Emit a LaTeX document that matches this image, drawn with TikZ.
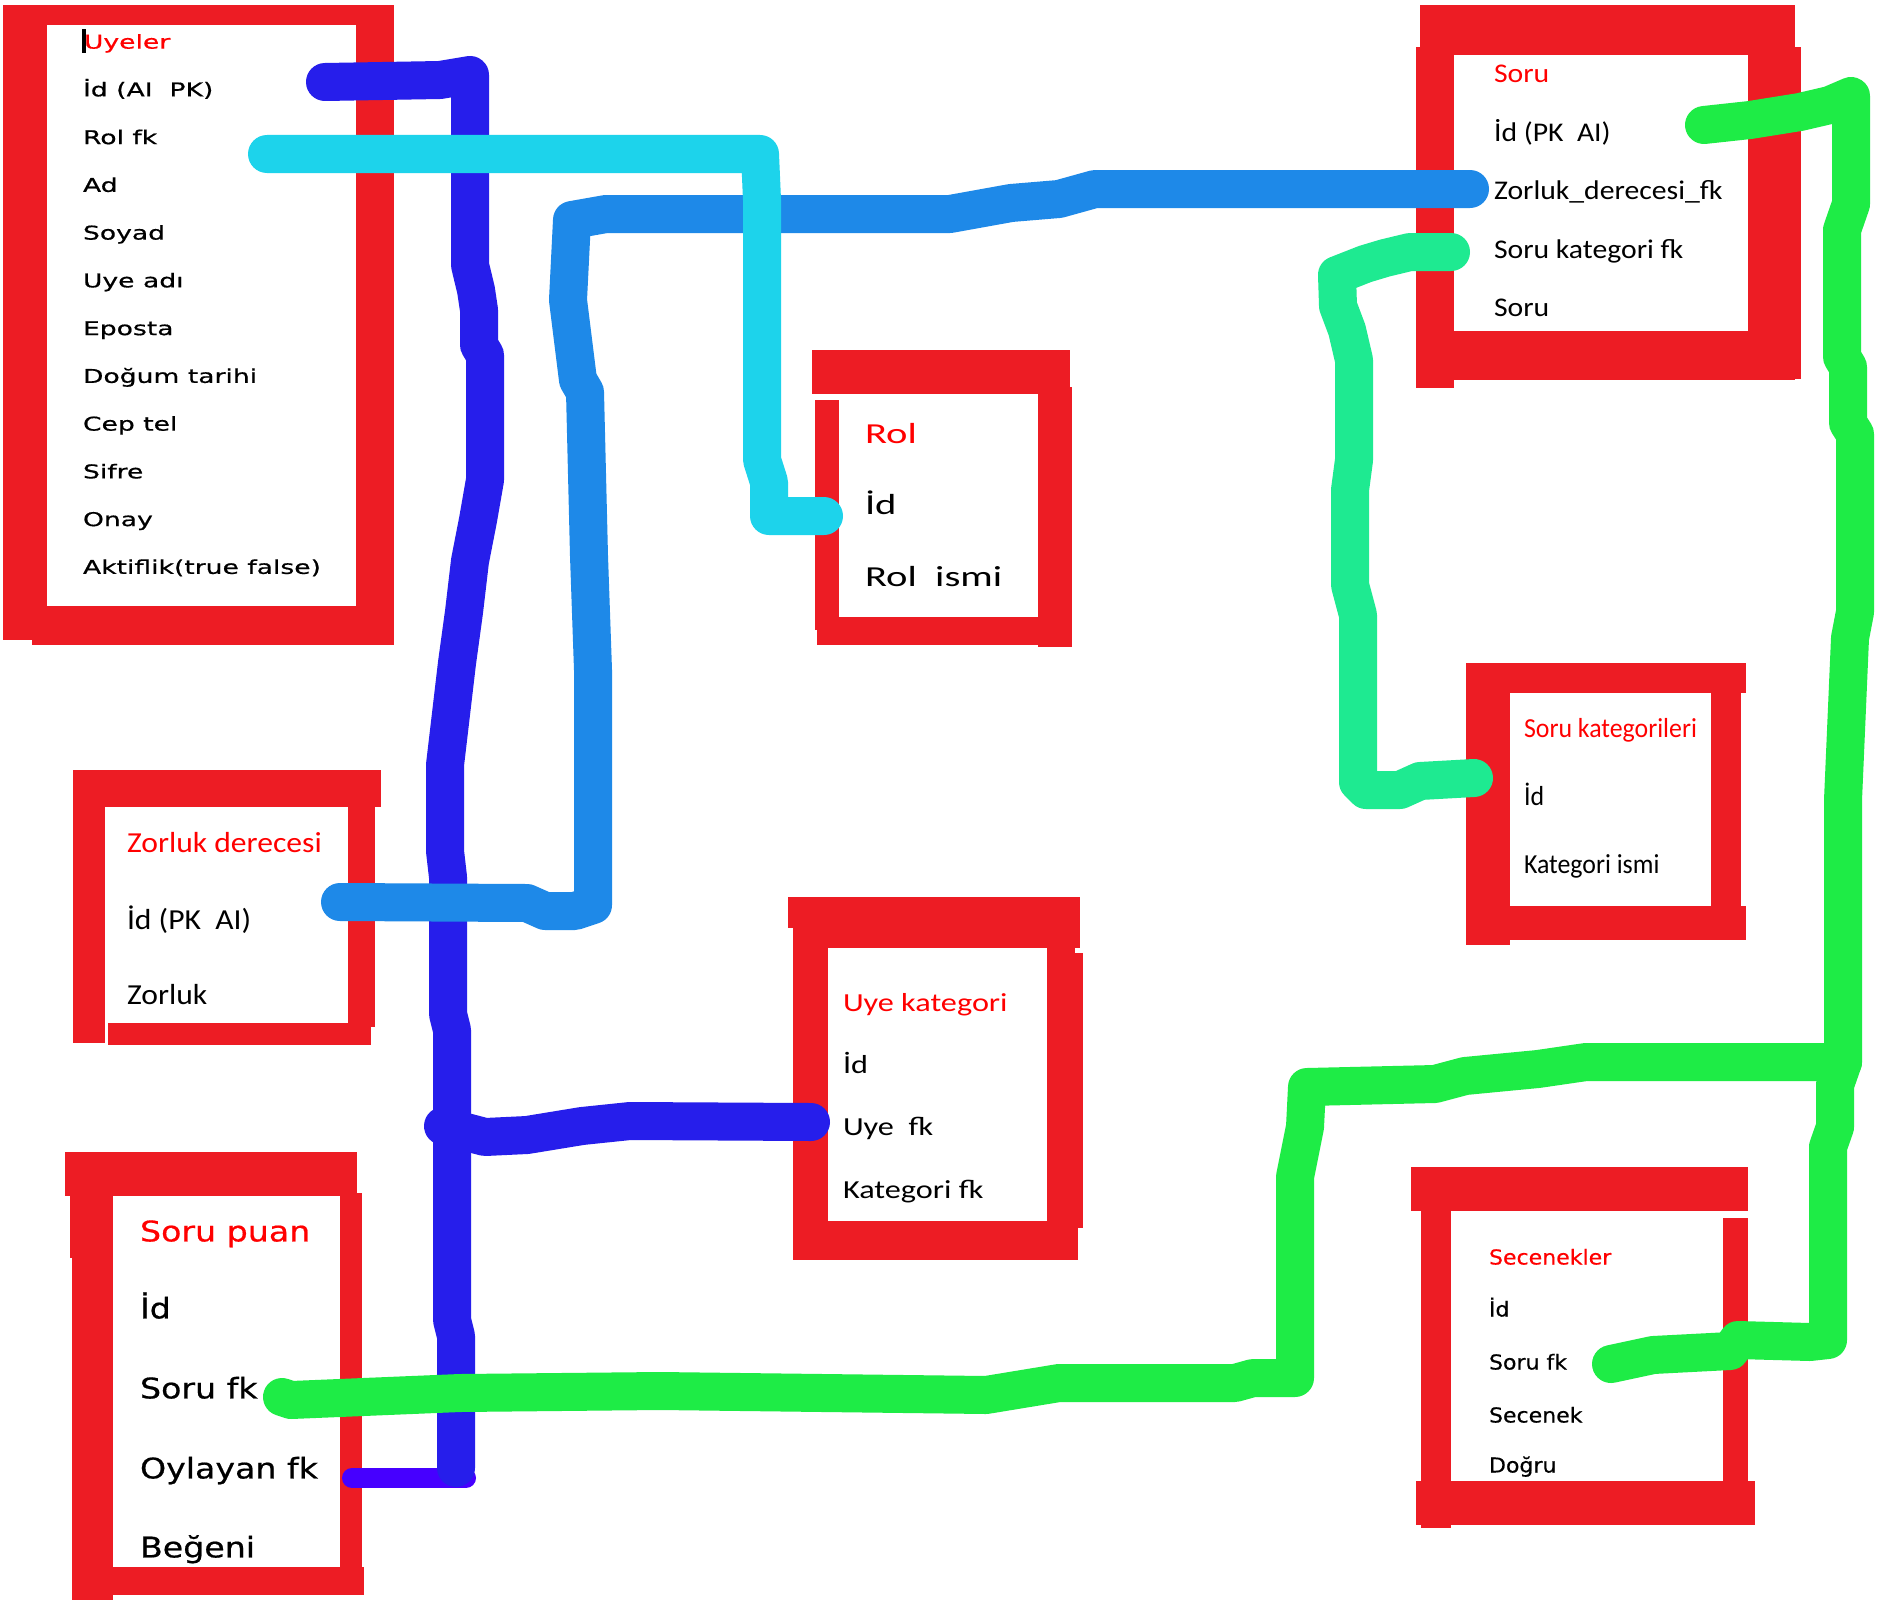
\documentclass[tikz,border=0pt]{standalone}
\usepackage{fontspec}
\newfontfamily\uyf{DejaVu Sans}[FakeStretch=1.40,FakeBold=0.6]
\newfontfamily\sof{Carlito}[FakeStretch=1.10]
\newfontfamily\rof{Carlito}[FakeStretch=1.40]
\newfontfamily\zof{Carlito}[FakeStretch=1.09]
\newfontfamily\spf{DejaVu Sans}[FakeStretch=1.17,FakeBold=0.6]
\newfontfamily\ukf{Carlito}[FakeStretch=1.24]
\newfontfamily\skf{Carlito}[FakeStretch=0.94]
\newfontfamily\sef{DejaVu Sans}[FakeStretch=1.07,FakeBold=0.4]
\definecolor{boxred}{RGB}{237,28,36}
\definecolor{tred}{RGB}{255,0,0}
\definecolor{dblue}{RGB}{38,30,235}
\definecolor{cyanl}{RGB}{29,211,235}
\definecolor{mblue}{RGB}{30,137,232}
\definecolor{tealg}{RGB}{30,234,145}
\definecolor{greenl}{RGB}{30,236,70}
\definecolor{purp}{RGB}{70,0,255}
\tikzset{
  fld/.style={anchor=base west, inner sep=0pt, outer sep=0pt, text=black},
  ttl/.style={fld, text=tred},
  uy/.style={font=\uyf\fontsize{19}{22}\selectfont},
  so/.style={font=\sof\fontsize{27}{30}\selectfont},
  ro/.style={font=\rof\fontsize{29}{32}\selectfont},
  zo/.style={font=\zof\fontsize{29}{32}\selectfont},
  sp/.style={font=\spf\fontsize{28.4}{32}\selectfont},
  uk/.style={font=\ukf\fontsize{26}{30}\selectfont},
  sk/.style={font=\skf\fontsize{27.5}{30}\selectfont},
  se/.style={font=\sef\fontsize{20.6}{24}\selectfont},
  wire/.style={line width=38pt, line cap=round, line join=round},
}
\begin{document}
\begin{tikzpicture}[x=1pt,y=-1pt]
\useasboundingbox[fill=white] (0,0) rectangle (1900,1600);

% ---------- red boxes ----------
% Uyeler
\fill[boxred] (3,5) rectangle (394,645);
\fill[white] (47,25) rectangle (356,606);
\fill[white] (3,640) rectangle (32,645);
% Soru
\fill[boxred] (1420,5) rectangle (1795,55);
\fill[boxred] (1416,47) rectangle (1454,388);
\fill[boxred] (1748,47) rectangle (1801,379);
\fill[boxred] (1416,331) rectangle (1795,380);
% Rol
\fill[boxred] (812,350) rectangle (1070,394);
\fill[boxred] (815,400) rectangle (839,630);
\fill[boxred] (1038,387) rectangle (1072,647);
\fill[boxred] (817,617) rectangle (1038,645);
% Zorluk derecesi
\fill[boxred] (73,770) rectangle (381,807);
\fill[boxred] (73,770) rectangle (105,1043);
\fill[boxred] (348,800) rectangle (375,1027);
\fill[boxred] (108,1023) rectangle (371,1045);
% Soru puan
\fill[boxred] (65,1152) rectangle (357,1196);
\fill[boxred] (70,1196) rectangle (113,1258);
\fill[boxred] (72,1196) rectangle (113,1600);
\fill[boxred] (340,1193) rectangle (362,1567);
\fill[boxred] (113,1567) rectangle (364,1595);
% Uye kategori
\fill[boxred] (788,897) rectangle (1080,928);
\fill[boxred] (828,928) rectangle (1080,948);
\fill[boxred] (1047,928) rectangle (1075,971);
\fill[boxred] (1047,953) rectangle (1083,1228);
\fill[boxred] (793,897) rectangle (828,1260);
\fill[boxred] (828,1221) rectangle (1078,1260);
% Soru kategorileri
\fill[boxred] (1466,663) rectangle (1746,693);
\fill[boxred] (1466,663) rectangle (1510,945);
\fill[boxred] (1711,693) rectangle (1741,906);
\fill[boxred] (1510,906) rectangle (1746,940);
% Secenekler
\fill[boxred] (1411,1167) rectangle (1748,1211);
\fill[boxred] (1421,1211) rectangle (1451,1528);
\fill[boxred] (1723,1218) rectangle (1748,1481);
\fill[boxred] (1416,1481) rectangle (1755,1525);

% ---------- texts ----------
% Uyeler
\node[ttl,uy] (uyT) at (84,48.6) {Uyeler};
\fill[black] (82,29) rectangle (86,53);
\node[fld,uy] (uy1) at (83,96.35) {İd (AI\ \ PK)};
\node[fld,uy] (uy2) at (83,144.1) {Rol fk};
\node[fld,uy] (uy3) at (83,191.85) {Ad};
\node[fld,uy] (uy4) at (83,239.6) {Soyad};
\node[fld,uy] (uy5) at (83,287.35) {Uye adı};
\node[fld,uy] (uy6) at (83,335.1) {Eposta};
\node[fld,uy] (uy7) at (83,382.85) {Doğum tarihi};
\node[fld,uy] (uy8) at (83,430.6) {Cep tel};
\node[fld,uy] (uy9) at (83,478.35) {Sifre};
\node[fld,uy] (uy10) at (83,526.1) {Onay};
\node[fld,uy] (uy11) at (83,573.85) {Aktiflik(true false)};
% Soru
\node[ttl,so] (soT) at (1494,82.7) {Soru};
\node[fld,so] (so1) at (1494,141.3) {İd (PK\ \ AI)};
\node[fld,so] (so2) at (1494,199.7) {Zorluk\_derecesi\_fk};
\node[fld,so] (so3) at (1494,258.7) {Soru kategori fk};
\node[fld,so] (so4) at (1494,316.7) {Soru};
% Rol
\node[ttl,ro] (roT) at (865,443.3) {Rol};
\node[fld,ro] (ro1) at (865,514.3) {İd};
\node[fld,ro] (ro2) at (865,586.3) {Rol\ \ ismi};
% Zorluk derecesi
\node[ttl,zo] (zoT) at (127,852.3) {Zorluk derecesi};
\node[fld,zo] (zo1) at (127,929.3) {İd (PK\ \ AI)};
\node[fld,zo] (zo2) at (127,1004.3) {Zorluk};
% Soru puan
\node[ttl,sp] (spT) at (140,1241.4) {Soru puan};
\node[fld,sp] (sp1) at (140,1318.4) {İd};
\node[fld,sp] (sp2) at (140,1398.4) {Soru fk};
\node[fld,sp] (sp3) at (140,1478.4) {Oylayan fk};
\node[fld,sp] (sp4) at (140,1557.4) {Beğeni};
% Uye kategori
\node[ttl,uk] (ukT) at (843,1011.4) {Uye kategori};
\node[fld,uk] (uk1) at (843,1073.4) {İd};
\node[fld,uk] (uk2) at (843,1135.4) {Uye\ \ fk};
\node[fld,uk] (uk3) at (843,1198.4) {Kategori fk};
% Soru kategorileri
\node[ttl,sk] (skT) at (1524,737.9) {Soru kategorileri};
\node[fld,sk] (sk1) at (1524,805.6) {İd};
\node[fld,sk] (sk2) at (1524,873.9) {Kategori ismi};
% Secenekler
\node[ttl,se] (seT) at (1489,1264.5) {Secenekler};
\node[fld,se] (se1) at (1489,1316.5) {İd};
\node[fld,se] (se2) at (1489,1369.5) {Soru fk};
\node[fld,se] (se3) at (1489,1422.5) {Secenek};
\node[fld,se] (se4) at (1489,1472.5) {Doğru};

% ---------- connector end points ----------
\coordinate (uyId) at (325,82);
\coordinate (spOy1) at (352,1478);
\coordinate (spOy2) at (466,1478);
\coordinate (dbBot) at (456,1468);
\coordinate (dbBr) at (443,1126);
\coordinate (ukFk) at (811,1122);
\coordinate (uyRol) at (267,154);
\coordinate (roId) at (824,516);
\coordinate (soZor) at (1470,189);
\coordinate (zoId) at (340,902);
\coordinate (soKat) at (1451,252);
\coordinate (skId) at (1474,778);
\coordinate (soId) at (1704,125);
\coordinate (seFk) at (1611,1364);
\coordinate (gJct) at (1843,1062);
\coordinate (spFk) at (282,1397);

% ---------- connectors ----------
\draw[purp, line width=20pt, line cap=round] (spOy1) -- (spOy2);
\draw[wire, dblue] (uyId) -- (440,80) -- (470,75) -- (470,265) -- (476,290)
  -- (479,310) -- (479,345) -- (485,355) -- (485,480) -- (478,520)
  -- (470,561) -- (464,612) -- (457,663) -- (451,714) -- (445,765)
  -- (445,851) -- (448,877) -- (448,1014) -- (452,1030) -- (452,1320)
  -- (456,1336) -- (dbBot);
\draw[wire, dblue] (dbBr) -- (485,1137) -- (527,1135) -- (582,1126)
  -- (630,1121) -- (ukFk);
\draw[wire, tealg] (soKat) -- (1410,252) -- (1385,258) -- (1365,264)
  -- (1337,275) -- (1338,306) -- (1347,330) -- (1354,360) -- (1354,460)
  -- (1350,490) -- (1350,585) -- (1358,615) -- (1358,782) -- (1366,790)
  -- (1400,790) -- (1420,781) -- (skId);
\draw[wire, mblue] (soZor) -- (1095,189) -- (1059,199) -- (1011,203)
  -- (950,214) -- (606,214) -- (572,220) -- (568,300) -- (572,332)
  -- (578,380) -- (585,392) -- (589,556) -- (593,670) -- (593,905)
  -- (575,911) -- (545,911) -- (527,903) -- (zoId);
\draw[wire, cyanl] (uyRol) -- (760,154) -- (762,200) -- (762,460)
  -- (769,482) -- (769,516) -- (roId);
\draw[wire, greenl] (soId) -- (1750,120) -- (1800,112) -- (1830,105)
  -- (1851,96) -- (1851,204) -- (1842,230) -- (1842,357) -- (1848,367)
  -- (1848,423) -- (1855,434) -- (1855,612) -- (1850,638) -- (1843,800)
  -- (1843,1062) -- (1835,1085) -- (1835,1127) -- (1828,1147)
  -- (1828,1340) -- (1810,1342) -- (1738,1340) -- (1730,1351)
  -- (1653,1355) -- (seFk);
\draw[wire, greenl] (gJct) -- (1586,1062) -- (1538,1069) -- (1465,1076)
  -- (1435,1084) -- (1307,1087) -- (1305,1127) -- (1295,1177)
  -- (1295,1378) -- (1253,1378) -- (1235,1383) -- (1059,1383)
  -- (986,1395) -- (660,1391) -- (460,1393) -- (291,1400) -- (spFk);
\end{tikzpicture}
\end{document}
